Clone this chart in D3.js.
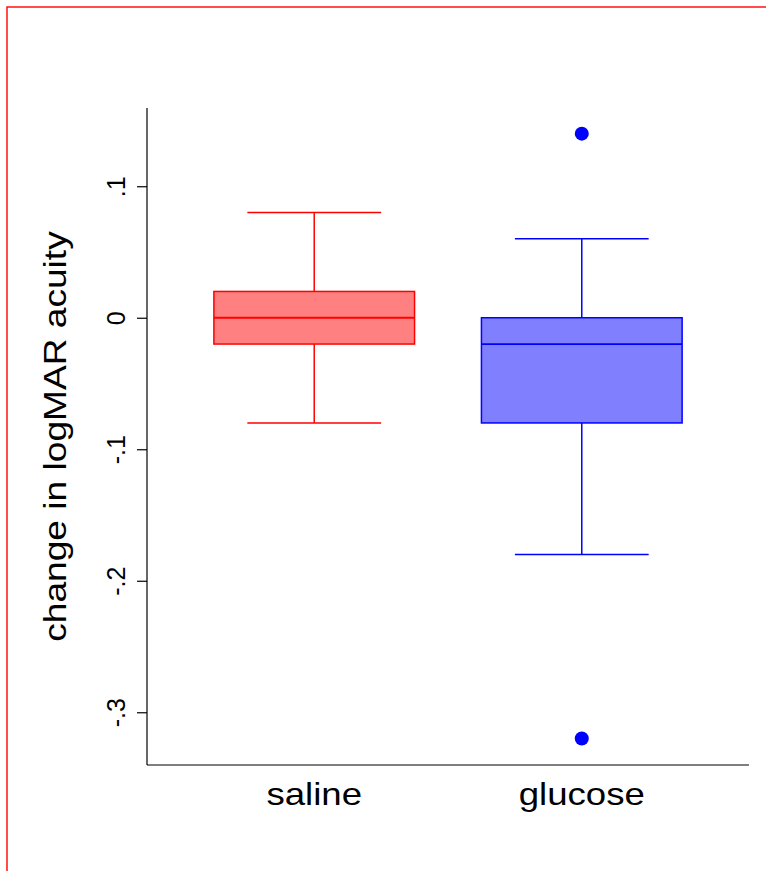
<!DOCTYPE html>
<html>
<head>
<meta charset="utf-8">
<script src="https://cdnjs.cloudflare.com/ajax/libs/d3/7.8.5/d3.min.js"></script>
<style>
  body { margin: 0; background: #fff; }
  svg { display: block; font-family: "Liberation Sans", Arial, Helvetica, sans-serif; }
</style>
</head>
<body>
<svg width="766" height="871"></svg>
<script>
// data
var groups = ["saline", "glucose"];
var whiskerLow = [-0.08, -0.18];
var q1 = [-0.02, -0.08];
var medians = [0, -0.02];
var q3 = [0.02, 0];
var whiskerHigh = [0.08, 0.06];
var outliers = [[], [0.14, -0.32]];
var strokeColors = ["#ff0000", "#0000ff"];
var fillColors = ["#ff8080", "#8080ff"];
var yTicks = [-0.3, -0.2, -0.1, 0, 0.1];
var yTickLabels = ["-.3", "-.2", "-.1", "0", ".1"];

var svg = d3.select("svg");

// frame
svg.append("rect")
    .attr("x", 7).attr("y", 7)
    .attr("width", 820).attr("height", 900)
    .attr("fill", "none")
    .attr("stroke", "#ff0000")
    .attr("stroke-width", 1.4);

var x = d3.scaleLinear().domain([0.375, 2.625]).range([147, 749]);
var y = d3.scaleLinear().domain([-0.3401, 0.1595]).range([765, 108]);

var boxes = groups.map(function(g, i) {
    return {
        name: g, pos: i + 1,
        lo: whiskerLow[i], q1: q1[i], med: medians[i], q3: q3[i], hi: whiskerHigh[i],
        out: outliers[i], stroke: strokeColors[i], fill: fillColors[i]
    };
});

var bg = svg.selectAll(".box")
    .data(boxes)
    .enter()
    .append("g")
    .attr("class", "box");

// whiskers
bg.append("line")
    .attr("x1", function(d) { return x(d.pos); })
    .attr("x2", function(d) { return x(d.pos); })
    .attr("y1", function(d) { return y(d.hi); })
    .attr("y2", function(d) { return y(d.lo); })
    .attr("stroke", function(d) { return d.stroke; })
    .attr("stroke-width", 1.5);

["lo", "hi"].forEach(function(k) {
    bg.append("line")
        .attr("x1", function(d) { return x(d.pos - 0.25); })
        .attr("x2", function(d) { return x(d.pos + 0.25); })
        .attr("y1", function(d) { return y(d[k]); })
        .attr("y2", function(d) { return y(d[k]); })
        .attr("stroke", function(d) { return d.stroke; })
        .attr("stroke-width", 1.5);
});

bg.append("rect")
    .attr("x", function(d) { return x(d.pos - 0.375); })
    .attr("width", function(d) { return x(d.pos + 0.375) - x(d.pos - 0.375); })
    .attr("y", function(d) { return y(d.q3); })
    .attr("height", function(d) { return y(d.q1) - y(d.q3); })
    .attr("fill", function(d) { return d.fill; })
    .attr("stroke", function(d) { return d.stroke; })
    .attr("stroke-width", 1.5);

bg.append("line")
    .attr("x1", function(d) { return x(d.pos - 0.375); })
    .attr("x2", function(d) { return x(d.pos + 0.375); })
    .attr("y1", function(d) { return y(d.med); })
    .attr("y2", function(d) { return y(d.med); })
    .attr("stroke", function(d) { return d.stroke; })
    .attr("stroke-width", 1.8);

bg.each(function(d) {
    d3.select(this).selectAll("circle")
        .data(d.out)
        .enter()
        .append("circle")
        .attr("cx", x(d.pos))
        .attr("cy", function(v) { return y(v); })
        .attr("r", 7)
        .attr("fill", d.stroke);
});

// axes (R style, bty = "l")
svg.append("line")
    .attr("x1", 147).attr("x2", 147)
    .attr("y1", y.range()[1]).attr("y2", y.range()[0])
    .attr("stroke", "#000").attr("stroke-width", 1.2);
svg.append("line")
    .attr("x1", x.range()[0]).attr("x2", x.range()[1])
    .attr("y1", 765).attr("y2", 765)
    .attr("stroke", "#000").attr("stroke-width", 1.2);

var yAxis = d3.axisLeft(y)
    .tickValues(yTicks)
    .tickSize(10)
    .tickFormat(function(d, i) { return yTickLabels[i]; });

var ga = svg.append("g")
    .attr("transform", "translate(147,0)")
    .call(yAxis);
ga.select(".domain").remove();
ga.selectAll(".tick line").attr("stroke", "#000").attr("stroke-width", 1.2);
ga.selectAll(".tick text")
    .attr("x", 0).attr("y", 0).attr("dy", null)
    .attr("transform", "translate(-22,0) rotate(-90)")
    .attr("text-anchor", "middle")
    .style("font-size", "25px")
    .style("font-family", "'Liberation Sans', Arial, sans-serif")
    .attr("fill", "#000");

// group labels
svg.selectAll(".glab")
    .data(boxes)
    .enter()
    .append("text")
    .attr("class", "glab")
    .attr("transform", function(d) { return "translate(" + x(d.pos) + ",805) scale(1.2,1)"; })
    .attr("text-anchor", "middle")
    .style("font-size", "30.5px")
    .text(function(d) { return d.name; });

svg.append("text")
    .attr("transform", "translate(66,436.5) rotate(-90) scale(1.16,1)")
    .attr("text-anchor", "middle")
    .style("font-size", "32px")
    .text("change in logMAR acuity");
</script>
</body>
</html>
